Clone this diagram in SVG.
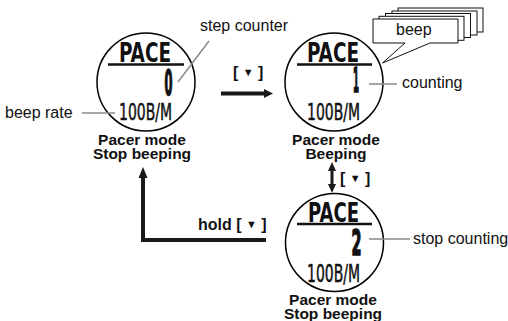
<svg xmlns="http://www.w3.org/2000/svg" width="508" height="321" viewBox="0 0 508 321">
<style>
.face{fill:#fff;stroke:#000;stroke-width:1.5}
.lcd{font-family:"DejaVu Sans Condensed","DejaVu Sans",sans-serif;font-weight:bold;fill:#111}
.dig{font-family:"DejaVu Sans Condensed","DejaVu Sans",sans-serif;font-weight:bold;fill:#111;stroke:#111;stroke-width:1.6}
.lcdn{font-family:"DejaVu Sans Condensed","DejaVu Sans",sans-serif;fill:#111;stroke:#111;stroke-width:0.5}
.bar{stroke:#111;stroke-width:2.5}
.lbl{font-family:"Liberation Sans","DejaVu Sans",sans-serif;font-size:16px;fill:#111}
.cap{font-family:"Liberation Sans","DejaVu Sans",sans-serif;font-size:15.5px;font-weight:bold;fill:#111;text-anchor:middle}
.key{font-family:"Liberation Sans","DejaVu Sans",sans-serif;font-size:16px;font-weight:bold;fill:#111}
.lead{stroke:#8a8a8a;stroke-width:1.5;fill:none}
.arr{stroke:#1a1a1a;fill:none}
.head{fill:#1a1a1a}
.box{fill:#fff;stroke:#111;stroke-width:1}
</style>
<g id="watch1">
<circle class="face" cx="146" cy="82" r="49"/>
<text class="lcd" x="119" y="62" font-size="26" textLength="52" lengthAdjust="spacingAndGlyphs">PACE</text>
<line class="bar" x1="108" y1="64.5" x2="184" y2="64.5"/>
<text class="dig" x="164.5" y="94.5" font-size="35" textLength="8" lengthAdjust="spacingAndGlyphs">0</text>
<text class="lcdn" x="119" y="120" font-size="23" textLength="53" lengthAdjust="spacingAndGlyphs">100B/M</text>
<text class="cap" x="142" y="144.5">Pacer mode</text>
<text class="cap" x="142" y="158.5">Stop beeping</text>
</g>
<g id="watch2">
<circle class="face" cx="334" cy="82" r="49"/>
<text class="lcd" x="307" y="62" font-size="26" textLength="52" lengthAdjust="spacingAndGlyphs">PACE</text>
<line class="bar" x1="297" y1="64.5" x2="372" y2="64.5"/>
<text class="dig" x="353" y="91.5" font-size="33" textLength="6" lengthAdjust="spacingAndGlyphs" font-family="Liberation Sans, sans-serif">1</text>
<text class="lcdn" x="307" y="120" font-size="23" textLength="53" lengthAdjust="spacingAndGlyphs">100B/M</text>
<text class="cap" x="336" y="144.5">Pacer mode</text>
<text class="cap" x="336" y="158.5">Beeping</text>
</g>
<g id="watch3">
<circle class="face" cx="334.5" cy="242.5" r="49"/>
<text class="lcd" x="308" y="222" font-size="26" textLength="51" lengthAdjust="spacingAndGlyphs">PACE</text>
<line class="bar" x1="297" y1="224" x2="372" y2="224"/>
<text class="dig" x="351.5" y="254.5" font-size="36" textLength="10" lengthAdjust="spacingAndGlyphs">2</text>
<text class="lcdn" x="307" y="282" font-size="24" textLength="53" lengthAdjust="spacingAndGlyphs">100B/M</text>
<text class="cap" x="333" y="304.5">Pacer mode</text>
<text class="cap" x="333" y="318.5">Stop beeping</text>
</g>
<g id="beep">
<rect class="box" x="398" y="8" width="85" height="24"/>
<rect class="box" x="392" y="11" width="85" height="24"/>
<rect class="box" x="385.5" y="13.5" width="85" height="24"/>
<rect class="box" x="379" y="16.3" width="85" height="24"/>
<path class="box" d="M373,19 H458 V43 H430 L382.5,63 L405,43 H373 Z"/>
<text class="lbl" x="396" y="35">beep</text>
</g>
<g id="labels">
<text class="lbl" x="200" y="31">step counter</text>
<text class="lbl" x="5" y="118">beep rate</text>
<text class="lbl" x="402" y="88">counting</text>
<text class="lbl" x="413" y="244">stop counting</text>
<text class="key" x="233" y="78">[ <tspan font-size="11" dy="-2">▼</tspan><tspan dy="2"> ]</tspan></text>
<text class="key" x="340" y="184">[ <tspan font-size="11" dy="-2">▼</tspan><tspan dy="2"> ]</tspan></text>
<text class="key" x="198" y="230">hold [ <tspan font-size="11" dy="-2">▼</tspan><tspan dy="2"> ]</tspan></text>
</g>
<g id="connectors">
<line class="lead" x1="209" y1="41" x2="178" y2="82"/>
<line class="lead" x1="82" y1="113" x2="115" y2="113"/>
<line class="lead" x1="369" y1="84" x2="397" y2="84"/>
<line class="lead" x1="369" y1="239" x2="410" y2="239"/>
<line class="arr" x1="221" y1="93.5" x2="266" y2="93.5" stroke-width="4"/>
<polygon class="head" points="264,89 273,93.5 264,98"/>
<line class="arr" x1="332" y1="168" x2="332" y2="187" stroke-width="3"/>
<polygon class="head" points="332,162 328,171 336,171"/>
<polygon class="head" points="332,193 328,184 336,184"/>
<polyline class="arr" points="266,240 143,240 143,176" stroke-width="4"/>
<polygon class="head" points="143,167 138.5,178 147.5,178"/>
</g>
</svg>
